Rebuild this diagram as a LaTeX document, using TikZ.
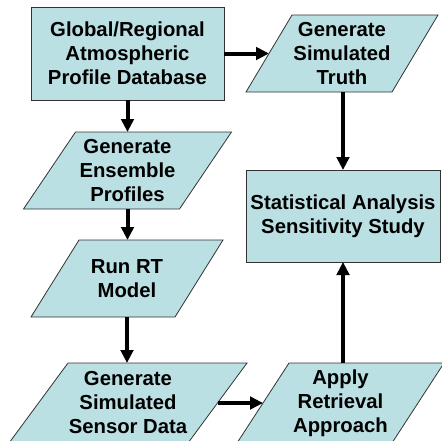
\documentclass[tikz,border=0pt]{standalone}
\usepackage{fontspec}
\setmainfont{Liberation Sans}
\usetikzlibrary{arrows.meta}
\definecolor{boxfill}{RGB}{187,224,227}
\definecolor{boxline}{RGB}{50,50,50}
% name, cx, cy, edge length, height, slant, text
\newcommand\myparabox[7]{%
  \draw[parastyle] (#2-#4/2-#6/2, #3+#5/2) -- ++(#4,0) -- ++(#6,-#5) -- ++(-#4,0) -- cycle;
  \node[txt] (#1) at (#2,#3) {#7};
  \coordinate (#1-w) at (#2-#4/2,#3);
  \coordinate (#1-e) at (#2+#4/2,#3);
  \coordinate (#1-n) at (#2,#3-#5/2);
  \coordinate (#1-s) at (#2,#3+#5/2);
}
\begin{document}
\begin{tikzpicture}[x=1pt,y=-1pt,
  txt/.style={font=\fontsize{20.3}{24}\selectfont\bfseries, align=center, text=black, inner sep=0pt},
  rectbox/.style={txt, draw=boxline, line width=0.8pt, fill=boxfill, inner sep=0pt, outer sep=0pt},
  parastyle/.style={draw=boxline, line width=0.8pt, fill=boxfill},
  arr/.style={line width=4pt, -{Triangle[width=12.5pt,length=13pt]}}
]
\useasboundingbox (0,0) rectangle (442,440);
\node[rectbox, minimum width=193pt, minimum height=93pt] (db) at (127.5,53.5)
  {Global/Regional\\Atmospheric\\Profile Database};
\myparabox{truth}{342}{53.5}{146}{77}{46}{Generate\\Simulated\\Truth}
\myparabox{ens}{127.5}{170.5}{156}{77}{52}{Generate\\Ensemble\\Profiles}
\node[rectbox, minimum width=194pt, minimum height=92pt] (stats) at (343,216)
  {Statistical Analysis\\Sensitivity Study};
\myparabox{rt}{127}{278.5}{144}{77}{48}{Run RT\\Model}
\myparabox{sensor}{128}{403}{179}{80}{59}{Generate\\Simulated\\Sensor Data}
\myparabox{apply}{340.5}{403}{155}{80}{52}{Apply\\Retrieval\\Approach}
\draw[arr] (db.east) -- (truth-w);
\draw[arr] (db.south) -- (db.south |- ens-n);
\draw[arr] (ens-s) -- (ens-s |- rt-n);
\draw[arr] (rt-s) -- (rt-s |- sensor-n);
\draw[arr] (stats.north |- truth-s) -- (stats.north);
\draw[arr] (sensor-e) -- (apply-w);
\draw[arr] (stats.south |- apply-n) -- (stats.south);
\end{tikzpicture}
\end{document}
